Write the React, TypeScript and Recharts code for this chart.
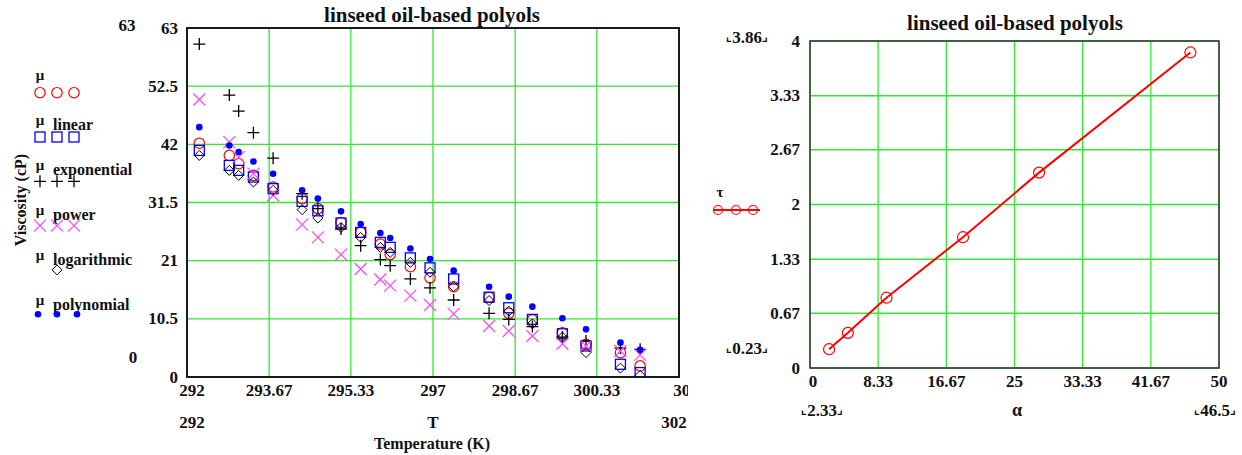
import React from "react";
import {
  ScatterChart,
  Scatter,
  LineChart,
  Line,
  XAxis,
  YAxis,
  CartesianGrid,
  ReferenceArea,
} from "recharts";

// --- left chart data (temperature vs viscosity) ---
const temps = [292.25, 292.86, 293.05, 293.35, 293.75, 294.34, 294.66, 295.13, 295.53, 295.93, 296.13, 296.54, 296.94, 297.42, 298.14, 298.54, 299.02, 299.63, 300.11, 300.81, 301.21];
const muMeasured = [42.2, 40.0, 38.5, 36.4, 34.3, 32.2, 30.4, 27.9, 26.1, 24.0, 22.1, 19.9, 17.9, 16.3, 14.4, 11.5, 10.3, 8.0, 5.9, 4.4, 2.0];
const muLinear = [40.9, 38.2, 37.3, 36.1, 34.0, 31.7, 30.0, 27.8, 26.1, 24.3, 23.4, 21.5, 19.7, 17.7, 14.4, 12.5, 10.4, 7.8, 5.6, 2.3, 0.8];
const muExponential = [60.1, 50.9, 48.0, 44.1, 39.5, 33.1, 30.4, 26.7, 23.7, 21.2, 20.1, 17.7, 16.1, 13.9, 11.5, 10.4, 9.1, 7.2, 6.5, 5.2, 5.0];
const muPower = [50.1, 42.4, 39.7, 36.7, 32.8, 27.5, 25.2, 22.1, 19.5, 17.6, 16.5, 14.7, 13.0, 11.4, 9.2, 8.3, 7.4, 6.0, 5.6, 4.7, 4.0];
const muLogarithmic = [40.0, 37.3, 36.4, 35.2, 33.7, 30.2, 28.7, 27.0, 25.2, 23.4, 22.5, 20.7, 18.9, 16.3, 13.8, 11.9, 9.6, 7.2, 4.4, 1.6, 0.3];
const muPolynomial = [45.1, 41.8, 40.6, 38.9, 36.7, 33.7, 32.2, 29.9, 27.6, 26.0, 25.1, 23.2, 21.3, 19.2, 16.3, 14.5, 12.7, 10.6, 8.6, 6.2, 4.9];

const tTicks = [292, 293.67, 295.33, 297, 298.67, 300.33, 302];
const muTicks = [0, 10.5, 21, 31.5, 42, 52.5, 63];

// --- right chart data ---
const alpha = [2.33, 4.63, 9.35, 18.7, 28.0, 46.5];
const tau = [0.23, 0.43, 0.86, 1.6, 2.39, 3.86];
const alphaTicks = [0, 8.33, 16.67, 25, 33.33, 41.67, 50];
const tauTicks = [0, 0.67, 1.33, 2, 2.67, 3.33, 4];

const TITLE = "linseed oil-based polyols";
const FONT = "'Liberation Serif', 'Times New Roman', serif";
const GREEN = "#33e633";

const fmt = (v: number) => String(Number(v.toFixed(2)));

// marker shapes
const OpenCircle = ({ cx, cy }: any) =>
  cx == null ? null : <circle cx={cx} cy={cy} r={5.2} fill="none" stroke="#ff0000" strokeWidth={1.2} />;
const OpenSquare = ({ cx, cy }: any) =>
  cx == null ? null : <rect x={cx - 5} y={cy - 5} width={10} height={10} fill="none" stroke="#0000ff" strokeWidth={1.3} />;
const Plus = ({ cx, cy }: any) =>
  cx == null ? null : <path d={`M${cx - 6},${cy}H${cx + 6}M${cx},${cy - 6}V${cy + 6}`} stroke="#000" strokeWidth={1.3} fill="none" />;
const Cross = ({ cx, cy }: any) =>
  cx == null ? null : (
    <path d={`M${cx - 6},${cy - 6}L${cx + 6},${cy + 6}M${cx + 6},${cy - 6}L${cx - 6},${cy + 6}`} stroke="#ff44ff" strokeWidth={1.2} fill="none" />
  );
const Diamond = ({ cx, cy }: any) =>
  cx == null ? null : <path d={`M${cx},${cy - 5}L${cx + 5},${cy}L${cx},${cy + 5}L${cx - 5},${cy}Z`} stroke="#000" strokeWidth={1} fill="none" />;
const Dot = ({ cx, cy }: any) => (cx == null ? null : <circle cx={cx} cy={cy} r={3.3} fill="#0000ff" />);

const series = [
  { name: "", values: muMeasured, Shape: OpenCircle, xs: [40, 57, 74] },
  { name: "linear", values: muLinear, Shape: OpenSquare, xs: [40, 57, 74] },
  { name: "exponential", values: muExponential, Shape: Plus, xs: [40, 57, 74] },
  { name: "power", values: muPower, Shape: Cross, xs: [40, 57, 74] },
  { name: "logarithmic", values: muLogarithmic, Shape: Diamond, xs: [57] },
  { name: "polynomial", values: muPolynomial, Shape: Dot, xs: [38, 57, 77] },
];

const tickStyle = { fontFamily: FONT, fontWeight: 700, fontSize: 17, fill: "#111" };

const LeftXTick = ({ x, y, payload, index }: any) => {
  const shift = index === 0 ? 5 : index === tTicks.length - 1 ? 7 : 0;
  return (
    <text x={x + shift} y={390} textAnchor="middle" dominantBaseline="central" style={tickStyle}>
      {fmt(payload.value)}
    </text>
  );
};
const LeftYTick = ({ y, payload }: any) => (
  <text x={178} y={y} textAnchor="end" dominantBaseline="central" style={tickStyle}>
    {fmt(payload.value)}
  </text>
);
const RightXTick = ({ x, payload, index }: any) => (
  <text x={x + (index === 0 ? 3 : 0)} y={381} textAnchor="middle" dominantBaseline="central" style={tickStyle}>
    {fmt(payload.value)}
  </text>
);
const RightYTick = ({ y, payload }: any) => (
  <text x={100} y={y} textAnchor="end" dominantBaseline="central" style={tickStyle}>
    {fmt(payload.value)}
  </text>
);

const Marker = ({ x, y, children }: any) => (
  <text x={x} y={y} textAnchor="middle" dominantBaseline="central" style={tickStyle}>
    <tspan fontSize={12}>⌞</tspan>
    {children}
    <tspan fontSize={12}>⌟</tspan>
  </text>
);

export default function App() {
  const leftData = series.map((s) => temps.map((t, i) => ({ T: t, v: s.values[i] })));
  const rightData = alpha.map((a, i) => ({ a, t: tau[i] }));

  return (
    <div style={{ position: "absolute", left: 0, top: 0, width: 1242, height: 455, background: "#fff", fontFamily: FONT }}>
      {/* left chart */}
      <div style={{ position: "absolute", left: 0, top: 0, width: 688, height: 455, overflow: "hidden" }}>
        <ScatterChart width={688} height={455} margin={{ top: 28, right: 9, bottom: 48, left: 127 }}>
          <CartesianGrid stroke={GREEN} strokeWidth={1.3} />
          <XAxis
            dataKey="T"
            type="number"
            domain={[292, 302]}
            ticks={tTicks}
            interval={0}
            height={30}
            tickSize={0}
            axisLine={false}
            tickLine={false}
            tick={<LeftXTick />}
            allowDataOverflow
          />
          <YAxis
            dataKey="v"
            type="number"
            domain={[0, 63]}
            ticks={muTicks}
            interval={0}
            width={60}
            tickSize={0}
            axisLine={false}
            tickLine={false}
            tick={<LeftYTick />}
            allowDataOverflow
          />
          <ReferenceArea x1={292} x2={302} y1={0} y2={63} fill="none" fillOpacity={0} stroke="#1a1a1a" strokeWidth={2} ifOverflow="visible" />
          {series.map((s, k) => (
            <Scatter key={k} data={leftData[k]} shape={(p: any) => <s.Shape {...p} />} isAnimationActive={false} />
          ))}
        </ScatterChart>
      </div>

      {/* right chart */}
      <div style={{ position: "absolute", left: 700, top: 0, width: 542, height: 455 }}>
        <LineChart width={542} height={455} data={rightData} margin={{ top: 41, right: 23, bottom: 57, left: 50 }}>
          <CartesianGrid stroke={GREEN} strokeWidth={1.3} />
          <XAxis
            dataKey="a"
            type="number"
            domain={[0, 50]}
            ticks={alphaTicks}
            interval={0}
            height={30}
            tickSize={0}
            axisLine={false}
            tickLine={false}
            tick={<RightXTick />}
          />
          <YAxis
            type="number"
            domain={[0, 4]}
            ticks={tauTicks}
            interval={0}
            width={60}
            tickSize={0}
            axisLine={false}
            tickLine={false}
            tick={<RightYTick />}
          />
          <ReferenceArea x1={0} x2={50} y1={0} y2={4} fill="none" fillOpacity={0} stroke="#333" strokeWidth={1.5} ifOverflow="visible" />
          <Line
            dataKey="t"
            stroke="#ff0000"
            strokeWidth={2}
            dot={{ r: 5.5, fill: "none", stroke: "#ff0000", strokeWidth: 1.2 }}
            isAnimationActive={false}
          />
        </LineChart>
      </div>

      {/* Mathcad annotations, legends and titles */}
      <svg width={1242} height={455} style={{ position: "absolute", left: 0, top: 0, pointerEvents: "none" }}>
        <g style={{ fontFamily: FONT, fontWeight: 700, fill: "#111" }}>
          <text x={432} y={22} textAnchor="middle" fontSize={21}>{TITLE}</text>
          <text x={1015} y={30} textAnchor="middle" fontSize={21}>{TITLE}</text>

          <text x={127} y={25} textAnchor="middle" dominantBaseline="central" fontSize={17}>63</text>
          <text x={133} y={357} textAnchor="middle" dominantBaseline="central" fontSize={17}>0</text>
          <text x={192} y={422} textAnchor="middle" dominantBaseline="central" fontSize={17}>292</text>
          <text x={433} y={422} textAnchor="middle" dominantBaseline="central" fontSize={17}>T</text>
          <text x={674} y={422} textAnchor="middle" dominantBaseline="central" fontSize={17}>302</text>
          <text x={432} y={443} textAnchor="middle" dominantBaseline="central" fontSize={16}>Temperature (K)</text>
          <text x={20} y={200} textAnchor="middle" dominantBaseline="central" fontSize={16} transform="rotate(-90 20 200)">Viscosity (cP)</text>

          {series.map((s, k) => {
            const yMu = 75 + k * 45;
            const ySym = 92.7 + k * 44.3;
            return (
              <g key={k}>
                <text x={40} y={yMu} textAnchor="middle" dominantBaseline="central" fontSize={15}>μ</text>
                {s.name && (
                  <text x={53} y={yMu + 4} dominantBaseline="central" fontSize={16}>{s.name}</text>
                )}
                {s.xs.map((x, j) => (
                  <s.Shape key={j} cx={x} cy={ySym} />
                ))}
              </g>
            );
          })}

          <Marker x={747} y={37}>3.86</Marker>
          <Marker x={747} y={348}>0.23</Marker>
          <Marker x={822} y={410}>2.33</Marker>
          <Marker x={1215} y={410}>46.5</Marker>
          <text x={1017} y={410} textAnchor="middle" dominantBaseline="central" fontSize={18}>α</text>
          <text x={720} y={192} textAnchor="middle" dominantBaseline="central" fontSize={15}>τ</text>
          <line x1={713} y1={210} x2={760} y2={210} stroke="#ff0000" strokeWidth={2} />
          {[718, 736, 753].map((x) => (
            <circle key={x} cx={x} cy={210} r={4.5} fill="none" stroke="#ff0000" strokeWidth={1.2} />
          ))}
        </g>
      </svg>
    </div>
  );
}
